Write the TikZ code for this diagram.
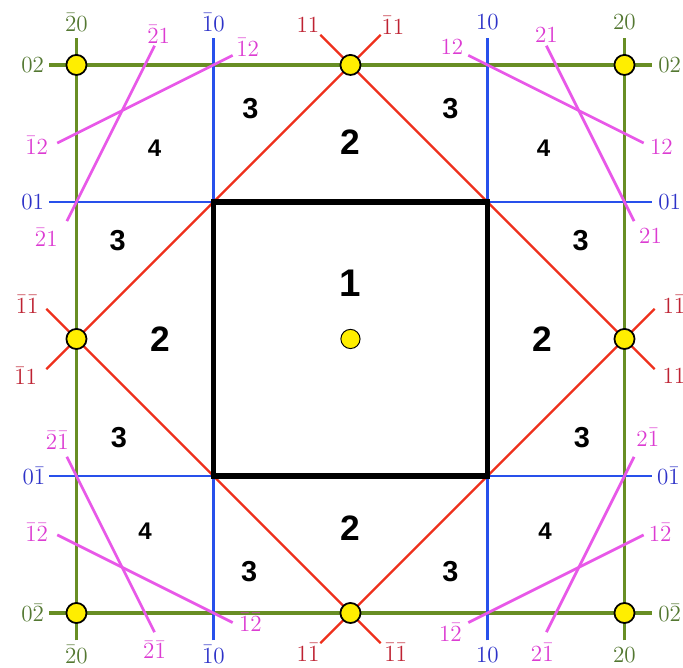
\documentclass[tikz,border=0pt]{standalone}
\usepackage{fontspec}
\setsansfont{Liberation Sans}
\usepackage{xcolor}
\usepackage{tikz}

\definecolor{bzgreen}{RGB}{104,142,36}
\definecolor{bzgreentxt}{RGB}{84,120,50}
\definecolor{bzblue}{RGB}{40,80,235}
\definecolor{bzbluetxt}{RGB}{45,50,200}
\definecolor{bzred}{RGB}{238,48,28}
\definecolor{bzredtxt}{RGB}{190,34,50}
\definecolor{bzmag}{RGB}{232,88,232}
\definecolor{bzmagtxt}{RGB}{220,60,210}
\definecolor{bzyellow}{RGB}{255,238,0}

\begin{document}
\begin{tikzpicture}[x=3cm,y=3cm,
  gline/.style={bzgreen,line width=2pt},
  bline/.style={bzblue,line width=1.8pt},
  rline/.style={bzred,line width=1.4pt},
  mline/.style={bzmag,line width=1.7pt},
  lab/.style={font=\fontsize{14.5}{16}\selectfont,inner sep=0pt},
  glab/.style={lab,text=bzgreentxt},
  blab/.style={lab,text=bzbluetxt},
  rlab/.style={lab,text=bzredtxt},
  mlab/.style={lab,text=bzmagtxt},
  zone/.style={inner sep=0pt,font=\sffamily\bfseries\fontsize{#1}{#1}\selectfont},
  kpoint/.style={circle,draw=black,fill=bzyellow,line width=1.1pt,minimum size=0.44cm,inner sep=0pt}]
  \clip (-2.558,-2.401) rectangle (2.427,2.474);
  % second zone boundary
  \draw[gline] (-2,-2.2) -- (-2,2.2);
  \draw[gline] (2,-2.2) -- (2,2.2);
  \draw[gline] (-2.2,2) -- (2.2,2);
  \draw[gline] (-2.2,-2) -- (2.2,-2);
  \node[glab] (g20t) at (-2,2.31) {$\bar{2}0$};
  \node[glab] (g20u) at (2,2.31) {$20$};
  \node[glab] (g20b) at (-2,-2.305) {$\bar{2}0$};
  \node[glab] (g20c) at (2,-2.305) {$20$};
  \node[glab] (g02l) at (-2.32,2) {$02$};
  \node[glab] (g02r) at (2.33,2) {$02$};
  \node[glab] (g02m) at (-2.32,-2) {$0\bar{2}$};
  \node[glab] (g02n) at (2.33,-2) {$0\bar{2}$};
  % first zone boundary
  \draw[bline] (-1,-2.2) -- (-1,2.2);
  \draw[bline] (1,-2.2) -- (1,2.2);
  \draw[bline] (-2.2,1) -- (2.2,1);
  \draw[bline] (-2.2,-1) -- (2.2,-1);
  \node[blab] (b10t) at (-1,2.31) {$\bar{1}0$};
  \node[blab] (b10u) at (1,2.31) {$10$};
  \node[blab] (b10b) at (-1,-2.305) {$\bar{1}0$};
  \node[blab] (b10c) at (1,-2.305) {$10$};
  \node[blab] (b01l) at (-2.32,1) {$01$};
  \node[blab] (b01r) at (2.33,1) {$01$};
  \node[blab] (b01m) at (-2.31,-1) {$0\bar{1}$};
  \node[blab] (b01n) at (2.32,-1) {$0\bar{1}$};
  % (12) and (21) planes
  \draw[mline] (0.86,2.07) -- (2.14,1.43);
  \draw[mline] (-0.86,2.07) -- (-2.14,1.43);
  \draw[mline] (0.86,-2.07) -- (2.14,-1.43);
  \draw[mline] (-0.86,-2.07) -- (-2.14,-1.43);
  \draw[mline] (1.43,2.14) -- (2.07,0.86);
  \draw[mline] (-1.43,2.14) -- (-2.07,0.86);
  \draw[mline] (1.43,-2.14) -- (2.07,-0.86);
  \draw[mline] (-1.43,-2.14) -- (-2.07,-0.86);
  \node[mlab] (m12a) at (0.74,2.13) {$12$};
  \node[mlab] (m12b) at (2.27,1.40) {$12$};
  \node[mlab] (m12c) at (-0.75,2.13) {$\bar{1}2$};
  \node[mlab] (m12d) at (-2.29,1.41) {$\bar{1}2$};
  \node[mlab] (m12e) at (0.73,-2.14) {$1\bar{2}$};
  \node[mlab] (m12f) at (2.26,-1.41) {$1\bar{2}$};
  \node[mlab] (m12g) at (-0.73,-2.07) {$\bar{1}\bar{2}$};
  \node[mlab] (m12h) at (-2.29,-1.41) {$\bar{1}\bar{2}$};
  \node[mlab] (m21a) at (1.43,2.22) {$21$};
  \node[mlab] (m21b) at (2.19,0.75) {$21$};
  \node[mlab] (m21c) at (-1.40,2.22) {$\bar{2}1$};
  \node[mlab] (m21d) at (-2.22,0.74) {$\bar{2}1$};
  \node[mlab] (m21e) at (1.40,-2.285) {$2\bar{1}$};
  \node[mlab] (m21f) at (2.17,-0.72) {$2\bar{1}$};
  \node[mlab] (m21g) at (-1.43,-2.27) {$\bar{2}\bar{1}$};
  \node[mlab] (m21h) at (-2.14,-0.74) {$\bar{2}\bar{1}$};
  % (11) planes
  \draw[rline] (-0.22,2.22) -- (2.22,-0.22);
  \draw[rline] (0.22,2.22) -- (-2.22,-0.22);
  \draw[rline] (2.22,0.22) -- (-0.22,-2.22);
  \draw[rline] (-2.22,0.22) -- (0.22,-2.22);
  \node[rlab] (r11a) at (-0.31,2.29) {$11$};
  \node[rlab] (r11b) at (2.36,-0.27) {$11$};
  \node[rlab] (r11c) at (0.31,2.29) {$\bar{1}1$};
  \node[rlab] (r11d) at (-2.37,-0.27) {$\bar{1}1$};
  \node[rlab] (r11e) at (2.36,0.25) {$1\bar{1}$};
  \node[rlab] (r11f) at (-0.31,-2.29) {$1\bar{1}$};
  \node[rlab] (r11g) at (-2.36,0.25) {$\bar{1}\bar{1}$};
  \node[rlab] (r11h) at (0.33,-2.29) {$\bar{1}\bar{1}$};
  % first zone
  \draw[line width=3.4pt] (-1,-1) rectangle (1,1);
  % zone numbers
  \node[zone=24] (z1) at (0,0.41) {1};
  \node[zone=22] (z2t) at (0,1.44) {2};
  \node[zone=22] (z2l) at (-1.39,0) {2};
  \node[zone=22] (z2r) at (1.40,0) {2};
  \node[zone=22] (z2b) at (0,-1.38) {2};
  \node[zone=18] (z3a) at (-0.73,1.68) {3};
  \node[zone=18] (z3b) at (0.73,1.68) {3};
  \node[zone=18] (z3c) at (-1.70,0.72) {3};
  \node[zone=18] (z3d) at (1.68,0.72) {3};
  \node[zone=18] (z3e) at (-1.69,-0.72) {3};
  \node[zone=18] (z3f) at (1.69,-0.72) {3};
  \node[zone=18] (z3g) at (-0.74,-1.70) {3};
  \node[zone=18] (z3h) at (0.73,-1.70) {3};
  \node[zone=15] (z4a) at (-1.43,1.39) {4};
  \node[zone=15] (z4b) at (1.41,1.39) {4};
  \node[zone=15] (z4c) at (-1.50,-1.40) {4};
  \node[zone=15] (z4d) at (1.42,-1.40) {4};
  % lattice points
  \node[kpoint,minimum size=0.42cm,line width=0.6pt] (k00) at (0,0) {};
  \node[kpoint] (kc1) at (-2,2) {};
  \node[kpoint] (kc2) at (2,2) {};
  \node[kpoint] (kc3) at (-2,-2) {};
  \node[kpoint] (kc4) at (2,-2) {};
  \node[kpoint] (ks1) at (0,2) {};
  \node[kpoint] (ks2) at (-2,0) {};
  \node[kpoint] (ks3) at (2,0) {};
  \node[kpoint] (ks4) at (0,-2) {};
\end{tikzpicture}
\end{document}
